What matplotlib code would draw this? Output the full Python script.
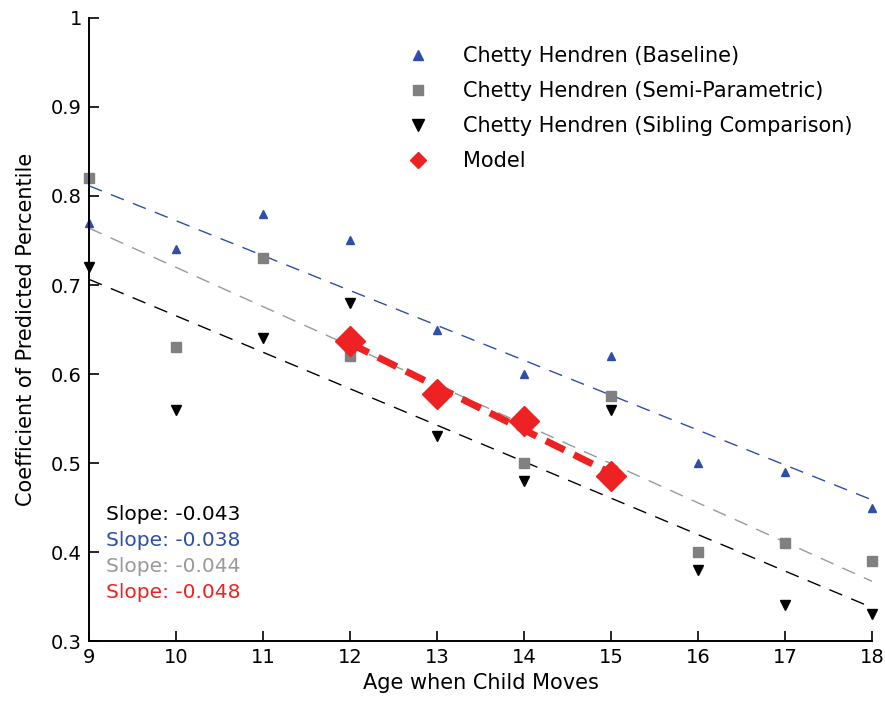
import numpy as np
import matplotlib.pyplot as plt

plt.rcParams['font.family'] = ['DejaVu Sans']

# Data
ages = [9, 10, 11, 12, 13, 14, 15, 16, 17, 18]
baseline = [0.77, 0.74, 0.78, 0.75, 0.65, 0.60, 0.62, 0.50, 0.49, 0.45]
semi_param = [0.82, 0.63, 0.73, 0.62, 0.58, 0.50, 0.575, 0.40, 0.41, 0.39]
sibling = [0.72, 0.56, 0.64, 0.68, 0.53, 0.48, 0.56, 0.38, 0.34, 0.33]
model_ages = [12, 13, 14, 15]
model = [0.637, 0.577, 0.547, 0.485]

slope_labels = ['Slope: -0.043', 'Slope: -0.038', 'Slope: -0.044', 'Slope: -0.048']

blue = '#2e4ea8'
gray = '#808080'
light = '#999999'
red = '#ee2222'

fig = plt.figure(figsize=(8.85, 7.08), dpi=100)
ax = fig.add_axes([0.1006, 0.0946, 0.8847, 0.88])

# fitted trend lines
def fit_line(x, y, **kw):
    p = np.polyfit(x, y, 1)
    xs = np.array([min(x), max(x)])
    ax.plot(xs, np.polyval(p, xs), **kw)

fit_line(ages, baseline, color=blue, lw=1, ls=(0, (10, 7)), zorder=1)
fit_line(ages, semi_param, color=light, lw=1, ls=(0, (10, 7)), zorder=1)
fit_line(ages, sibling, color='black', lw=1, ls=(0, (10, 7)), zorder=1)

ax.plot(ages, baseline, '^', color=blue, ms=5.5, ls='none', clip_on=False,
        label='Chetty Hendren (Baseline)')
ax.plot(ages, semi_param, 's', color=gray, ms=7.5, ls='none', clip_on=False,
        label='Chetty Hendren (Semi-Parametric)')
ax.plot(ages, sibling, 'v', color='black', ms=7, ls='none', clip_on=False,
        label='Chetty Hendren (Sibling Comparison)')
ax.plot(model_ages, model, 'D', color=red, ms=15, ls='none', zorder=4, label='Model')
fit_line(model_ages, model, color=red, lw=5, ls=(0, (3, 1.5)), zorder=3)

ax.set_xlim(9, 18)
ax.set_ylim(0.3, 1.0)
ax.set_xticks(ages)
ax.set_yticks([0.3, 0.4, 0.5, 0.6, 0.7, 0.8, 0.9, 1.0])
ax.set_yticklabels(['0.3', '0.4', '0.5', '0.6', '0.7', '0.8', '0.9', '1'])
ax.tick_params(direction='in', length=7, labelsize=14, width=1.2, pad=5)
ax.spines['top'].set_visible(False)
ax.spines['right'].set_visible(False)
ax.spines['left'].set_linewidth(1.4)
ax.spines['bottom'].set_linewidth(1.4)
ax.set_xlabel('Age when Child Moves', fontsize=15, labelpad=4)
ax.set_ylabel('Coefficient of Predicted Percentile', fontsize=15, labelpad=11)

leg = ax.legend(loc='upper left', bbox_to_anchor=(0.37, 0.985), frameon=False,
                fontsize=15, handlelength=2.0, handletextpad=1.15,
                labelspacing=0.72)
for h, s in zip(leg.legend_handles, [7, 7, 8, 8]):
    h.set_markersize(s)

colors = ['black', blue, light, red]
for i, (txt, c) in enumerate(zip(slope_labels, colors)):
    ax.text(9.19, 0.4416 - i * 0.0292, txt, color=c, fontsize=14.5, va='center')

fig.savefig('out.png', dpi=100)
